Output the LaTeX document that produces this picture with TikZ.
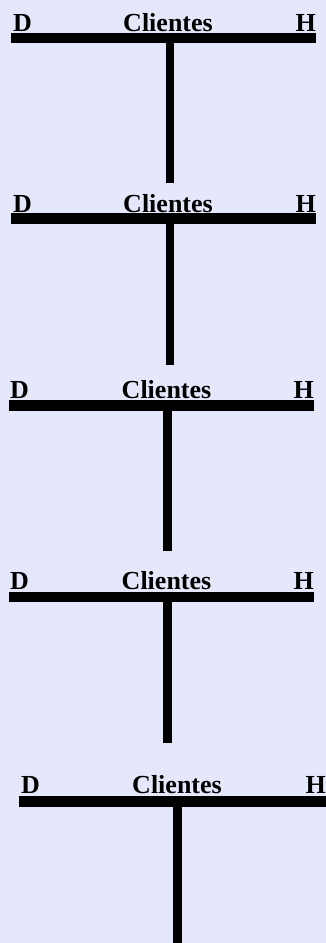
\documentclass[tikz,border=0pt]{standalone}
\usepackage{fontspec}
\setmainfont{Liberation Serif}
\usepackage{tikz}
\usetikzlibrary{calc}
\definecolor{fondo}{RGB}{229,232,252}
\tikzset{
	rotulo/.style={inner sep=0pt, font=\bfseries\fontsize{26}{30}\selectfont},
	barra/.style={line width=10.5pt},
	poste/.style={line width=8.5pt},
}

\begin{document}
\begin{tikzpicture}[x=1pt,y=-1pt]

	\fill[fondo] (0,0) rectangle (326,943);
	\useasboundingbox (0,0) rectangle (326,943);

	% cuenta 1
	\node[rotulo, anchor=base west] (d1) at (13,31) {D};
	\node[rotulo, anchor=base] (cli1) at (168,31) {Clientes};
	\node[rotulo, anchor=base east] (h1) at (316,31) {H};
	\coordinate (bi1) at (11,38);
	\coordinate (bd1) at (316,38);
	\coordinate (pa1) at (170,38);
	\coordinate (pb1) at (170,183);
	\draw[barra] (bi1) -- (bd1);
	\draw[poste] (pa1) -- (pb1);

	% cuenta 2
	\node[rotulo, anchor=base west] (d2) at (13,212) {D};
	\node[rotulo, anchor=base] (cli2) at (168,212) {Clientes};
	\node[rotulo, anchor=base east] (h2) at (316,212) {H};
	\coordinate (bi2) at (11,218.5);
	\coordinate (bd2) at (316,218.5);
	\coordinate (pa2) at (170,218.5);
	\coordinate (pb2) at (170,365);
	\draw[barra] (bi2) -- (bd2);
	\draw[poste] (pa2) -- (pb2);

	% cuenta 3
	\node[rotulo, anchor=base west] (d3) at (10,398) {D};
	\node[rotulo, anchor=base] (cli3) at (166.5,398) {Clientes};
	\node[rotulo, anchor=base east] (h3) at (314,398) {H};
	\coordinate (bi3) at (9,405.5);
	\coordinate (bd3) at (314,405.5);
	\coordinate (pa3) at (167.5,405.5);
	\coordinate (pb3) at (167.5,551);
	\draw[barra] (bi3) -- (bd3);
	\draw[poste] (pa3) -- (pb3);

	% cuenta 4
	\node[rotulo, anchor=base west] (d4) at (10,589.5) {D};
	\node[rotulo, anchor=base] (cli4) at (166.5,589.5) {Clientes};
	\node[rotulo, anchor=base east] (h4) at (314,589.5) {H};
	\coordinate (bi4) at (9,597);
	\coordinate (bd4) at (314,597);
	\coordinate (pa4) at (167.5,597);
	\coordinate (pb4) at (167.5,743);
	\draw[barra] (bi4) -- (bd4);
	\draw[poste] (pa4) -- (pb4);

	% cuenta 5
	\node[rotulo, anchor=base west] (d5) at (21,793.5) {D};
	\node[rotulo, anchor=base] (cli5) at (177,793.5) {Clientes};
	\node[rotulo, anchor=base east] (h5) at (326,793.5) {H};
	\coordinate (bi5) at (19,801.5);
	\coordinate (bd5) at (326,801.5);
	\coordinate (pa5) at (177.5,801.5);
	\coordinate (pb5) at (177.5,943);
	\draw[barra] (bi5) -- (bd5);
	\draw[poste] (pa5) -- (pb5);

\end{tikzpicture}
\end{document}
